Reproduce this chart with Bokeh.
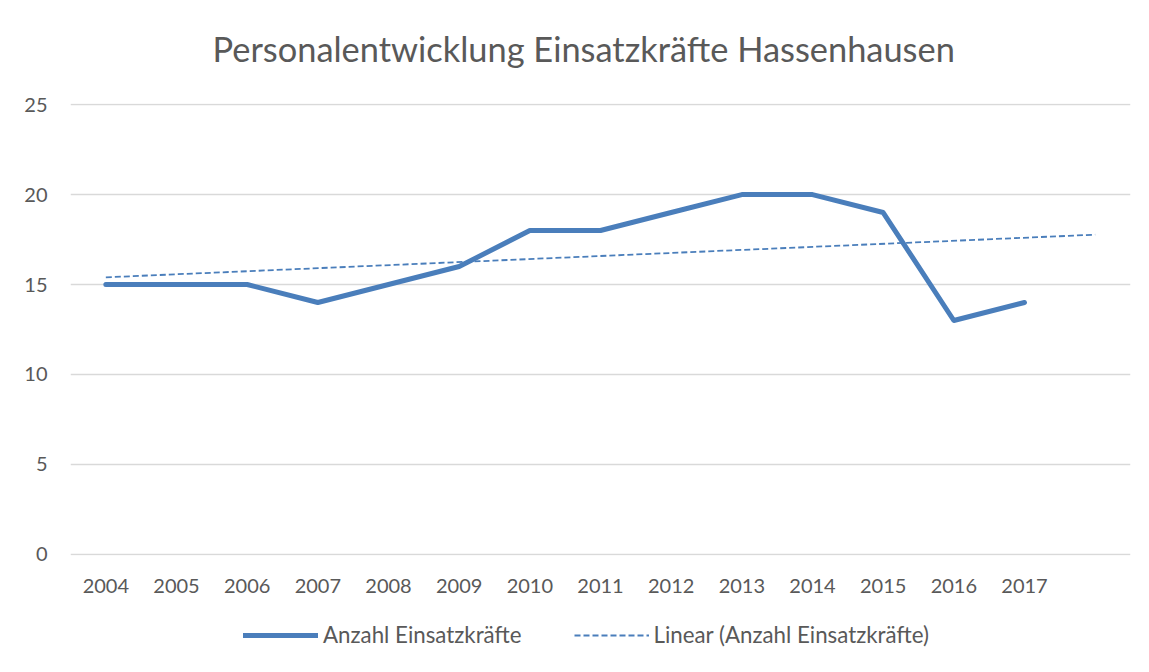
import numpy as np
from bokeh.plotting import figure
from bokeh.layouts import column
from bokeh.models import Range1d, FixedTicker, Legend, LegendItem
from bokeh.embed import file_html
from bokeh.resources import INLINE

# ---- data ----
years = ["2004", "2005", "2006", "2007", "2008", "2009", "2010",
         "2011", "2012", "2013", "2014", "2015", "2016", "2017"]
values = [15, 15, 15, 14, 15, 16, 18, 18, 19, 20, 20, 19, 13, 14]
y_ticks = [0, 5, 10, 15, 20, 25]
title_text = "Personalentwicklung Einsatzkräfte Hassenhausen"
series_name = "Anzahl Einsatzkräfte"
trend_name = "Linear (Anzahl Einsatzkräfte)"
forecast_forward = 1

# ---- derived ----
x = np.arange(1, len(years) + 1)
slope, intercept = np.polyfit(x, values, 1)
trend_x = [1, len(years) + forecast_forward]
trend_y = [intercept + slope * t for t in trend_x]

BLUE = "#4a7ebb"
GRID = "#d9d9d9"
TXT = "#595959"
FONT = "Lato"

W, H_TITLE, H_MAIN, H_LEG = 1149, 72, 538, 62
FRAME_TOP, FRAME_BOTTOM = 103, 555

# ---- title strip ----
tf = figure(width=W, height=H_TITLE, output_backend="svg", toolbar_location=None,
            x_range=Range1d(0, 1), y_range=Range1d(0, 1),
            x_axis_type=None, y_axis_type=None,
            min_border_left=0, min_border_right=0,
            min_border_top=68, min_border_bottom=0)
tf.outline_line_color = None
tf.grid.visible = False
tf.border_fill_color = "white"
tf.background_fill_color = "white"
tf.title.text = title_text
tf.title.align = "left"
tf.title.text_font = FONT
tf.title.text_font_style = "normal"
tf.title.text_font_size = "34.4px"
tf.title.text_color = TXT
tf.title.offset = 142
tf.title.standoff = 0

# ---- main chart ----
pad = 0.06
p = figure(width=W, height=H_MAIN, output_backend="svg", toolbar_location=None,
           x_range=Range1d(0.5, len(years) + forecast_forward + 0.5),
           y_range=Range1d(y_ticks[0] - pad, y_ticks[-1] + pad),
           min_border_left=70, min_border_right=19,
           min_border_top=FRAME_TOP - H_TITLE,
           min_border_bottom=H_TITLE + H_MAIN - FRAME_BOTTOM)

p.outline_line_color = None
p.background_fill_color = "white"
p.border_fill_color = "white"

p.xaxis.ticker = FixedTicker(ticks=list(x))
p.xaxis.major_label_overrides = {int(i): y for i, y in zip(x, years)}
p.yaxis.ticker = FixedTicker(ticks=y_ticks)
for ax in (p.xaxis[0], p.yaxis[0]):
    ax.axis_line_color = None
    ax.major_tick_line_color = None
    ax.minor_tick_line_color = None
    ax.major_tick_in = 0
    ax.major_tick_out = 0
    ax.major_label_text_font = FONT
    ax.major_label_text_font_size = "20px"
    ax.major_label_text_color = TXT
p.yaxis.major_label_standoff = 23
p.xaxis.major_label_standoff = 23

p.xgrid.grid_line_color = None
p.ygrid.ticker = FixedTicker(ticks=y_ticks)
p.ygrid.grid_line_color = GRID
p.ygrid.grid_line_width = 1.3

line_style = dict(line_color=BLUE, line_width=5, line_cap="round", line_join="round")
trend_style = dict(line_color=BLUE, line_width=1.8, line_dash="6 3")

p.line(x, values, **line_style)
p.line(trend_x, trend_y, **trend_style)

# ---- legend strip below the chart (series drawn out of view, legend only) ----
lg = figure(width=W, height=H_LEG, output_backend="svg", toolbar_location=None,
            x_range=Range1d(0, 1), y_range=Range1d(-2, -1),
            x_axis_type=None, y_axis_type=None,
            min_border_left=0, min_border_right=0,
            min_border_top=0, min_border_bottom=0)
lg.outline_line_color = None
lg.grid.visible = False
lg.border_fill_color = "white"
l1 = lg.line(x, values, **line_style)
l2 = lg.line(trend_x, trend_y, **trend_style)

legend = Legend(items=[LegendItem(label=series_name, renderers=[l1]),
                       LegendItem(label=trend_name, renderers=[l2])],
                orientation="horizontal", location=(173, 24),
                glyph_width=75, glyph_height=24, label_height=24,
                label_standoff=5, spacing=52, padding=0, margin=0,
                border_line_alpha=0, background_fill_alpha=0,
                label_text_font=FONT, label_text_font_size="22.3px",
                label_text_color=TXT)
lg.add_layout(legend)

layout = column(tf, p, lg, spacing=0)

with open("out.html", "w") as f:
    f.write(file_html(layout, INLINE))
